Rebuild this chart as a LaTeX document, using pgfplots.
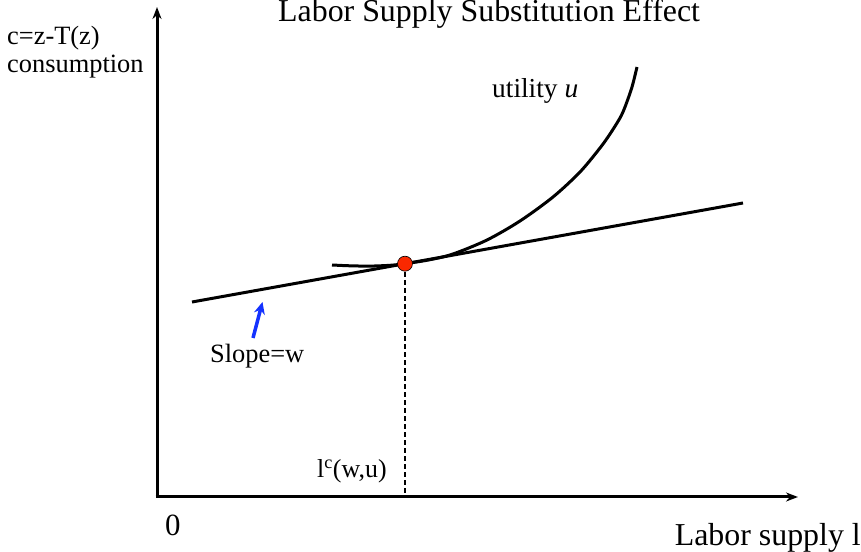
\documentclass[border=0pt]{standalone}
\usepackage{pgfplots}
\pgfplotsset{compat=1.18}
\usetikzlibrary{arrows.meta}
\usepackage{fontspec}
\setmainfont{Liberation Serif}
\definecolor{ptred}{RGB}{250,40,0}
\definecolor{arrblue}{RGB}{20,50,255}
\begin{document}
\begin{tikzpicture}
\begin{axis}[
  x=1bp, y=1bp,
  xmin=0, xmax=861, ymin=0, ymax=552,
  hide axis, clip=false,
]
% axes
\addplot[line width=3bp, -{Stealth[length=12bp,width=9bp]}] coordinates {(157,55) (157,545)};
\addplot[line width=3bp, -{Stealth[length=12bp,width=9bp]}] coordinates {(155.5,55) (798,55)};
% budget line
\addplot[line width=3bp] coordinates {(192,250) (743,349)};
% indifference curve
\addplot[line width=3bp, smooth] coordinates {
(332,287) (350,286.2) (370,285.9) (390,286.7) (405,288.3) (430,292.3) (453,298)
(487,312) (520,331) (553,355) (580,380) (600,404) (610,418) (620,434) (625,445) (632,465) (637,485)};
% dashed
\addplot[line width=1.8bp, dash pattern=on 5bp off 3bp] coordinates {(405,288) (405,55)};
% tangency point
\addplot[only marks, mark=*, mark size=7.5bp, mark options={fill=ptred, draw=black, line width=0.6bp}] coordinates {(405,288.3)};
% blue arrow
\addplot[arrblue, line width=3.5bp, -{Stealth[length=12bp,width=11bp]}] coordinates {(253,214) (262.5,250)};
% texts
\node[anchor=base west, inner sep=0pt, font=\fontsize{26.5}{30}\selectfont] at (axis cs:7,507) {c=z-T(z)};
\node[anchor=base west, inner sep=0pt, font=\fontsize{26.5}{30}\selectfont] at (axis cs:7,479) {consumption};
\node[anchor=base west, inner sep=0pt, font=\fontsize{32}{36}\selectfont] at (axis cs:278,530) {Labor Supply Substitution Effect};
\node[anchor=base west, inner sep=0pt, font=\fontsize{27.5}{30}\selectfont] at (axis cs:492,454) {utility \textit{u}};
\node[anchor=base west, inner sep=0pt, font=\fontsize{26.5}{30}\selectfont] at (axis cs:210,190) {Slope=w};
\node[anchor=base west, inner sep=0pt, font=\fontsize{26}{30}\selectfont] at (axis cs:317,75) {l\textsuperscript{c}(w,u)};
\node[anchor=base west, inner sep=0pt, font=\fontsize{31}{34}\selectfont] at (axis cs:165,17) {0};
\node[anchor=base east, inner sep=0pt, font=\fontsize{32}{36}\selectfont] at (axis cs:861,7) {Labor supply l};
\end{axis}
\pgfresetboundingbox
\useasboundingbox (0,0) rectangle (861bp,552bp);
\end{tikzpicture}
\end{document}
